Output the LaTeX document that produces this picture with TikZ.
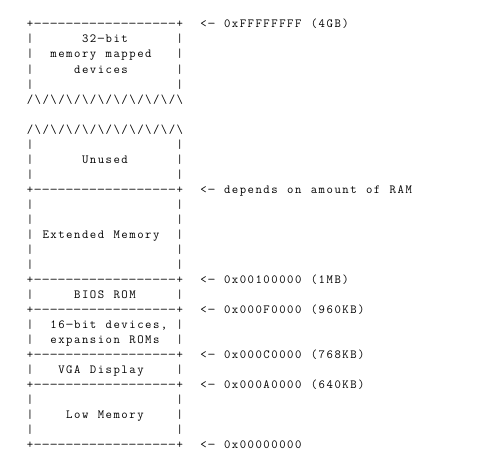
\documentclass[tikz,border=0pt]{standalone}
\usepackage{fontspec}
\usepackage{graphicx}
\newlength\cellw
\setlength\cellw{7.89pt}
\ExplSyntaxOn
\cs_new_protected:Npn \asc_cells:n #1
  {
    \str_map_inline:nn {#1}
      {
        \str_if_eq:nnTF {##1} {-}
          { \makebox[\cellw][c]{\scalebox{1.3}[1]{-}} }
          { \makebox[\cellw][c]{##1} }
      }
  }
\cs_set_eq:NN \asccells \asc_cells:n
\ExplSyntaxOff
\tikzset{
  rowtext/.style={anchor=base west, inner sep=0pt, outer sep=0pt,
    text=black, font=\fontsize{12.4}{15}\selectfont\ttfamily}
}
\NewDocumentCommand\asciirow{m m v}{%
  \node[rowtext] (#1) at (26.05pt,{-28pt-15pt*#2}) {\asccells{#3}};}
\begin{document}
\begin{tikzpicture}
\fill[white] (0,0) rectangle (492pt,-460pt);
\useasboundingbox (0,0) rectangle (492pt,-460pt);
\asciirow{r0}{0}!+------------------+  <- 0xFFFFFFFF (4GB)!
\asciirow{r1}{1}!|      32-bit      |!
\asciirow{r2}{2}!|  memory mapped   |!
\asciirow{r3}{3}!|     devices      |!
\asciirow{r4}{4}!|                  |!
\asciirow{r5}{5}!/\/\/\/\/\/\/\/\/\/\!
\asciirow{r7}{7}!/\/\/\/\/\/\/\/\/\/\!
\asciirow{r8}{8}!|                  |!
\asciirow{r9}{9}!|      Unused      |!
\asciirow{r10}{10}!|                  |!
\asciirow{r11}{11}!+------------------+  <- depends on amount of RAM!
\asciirow{r12}{12}!|                  |!
\asciirow{r13}{13}!|                  |!
\asciirow{r14}{14}!| Extended Memory  |!
\asciirow{r15}{15}!|                  |!
\asciirow{r16}{16}!|                  |!
\asciirow{r17}{17}!+------------------+  <- 0x00100000 (1MB)!
\asciirow{r18}{18}!|     BIOS ROM     |!
\asciirow{r19}{19}!+------------------+  <- 0x000F0000 (960KB)!
\asciirow{r20}{20}!|  16-bit devices, |!
\asciirow{r21}{21}!|  expansion ROMs  |!
\asciirow{r22}{22}!+------------------+  <- 0x000C0000 (768KB)!
\asciirow{r23}{23}!|   VGA Display    |!
\asciirow{r24}{24}!+------------------+  <- 0x000A0000 (640KB)!
\asciirow{r25}{25}!|                  |!
\asciirow{r26}{26}!|    Low Memory    |!
\asciirow{r27}{27}!|                  |!
\asciirow{r28}{28}!+------------------+  <- 0x00000000!
\end{tikzpicture}
\end{document}
